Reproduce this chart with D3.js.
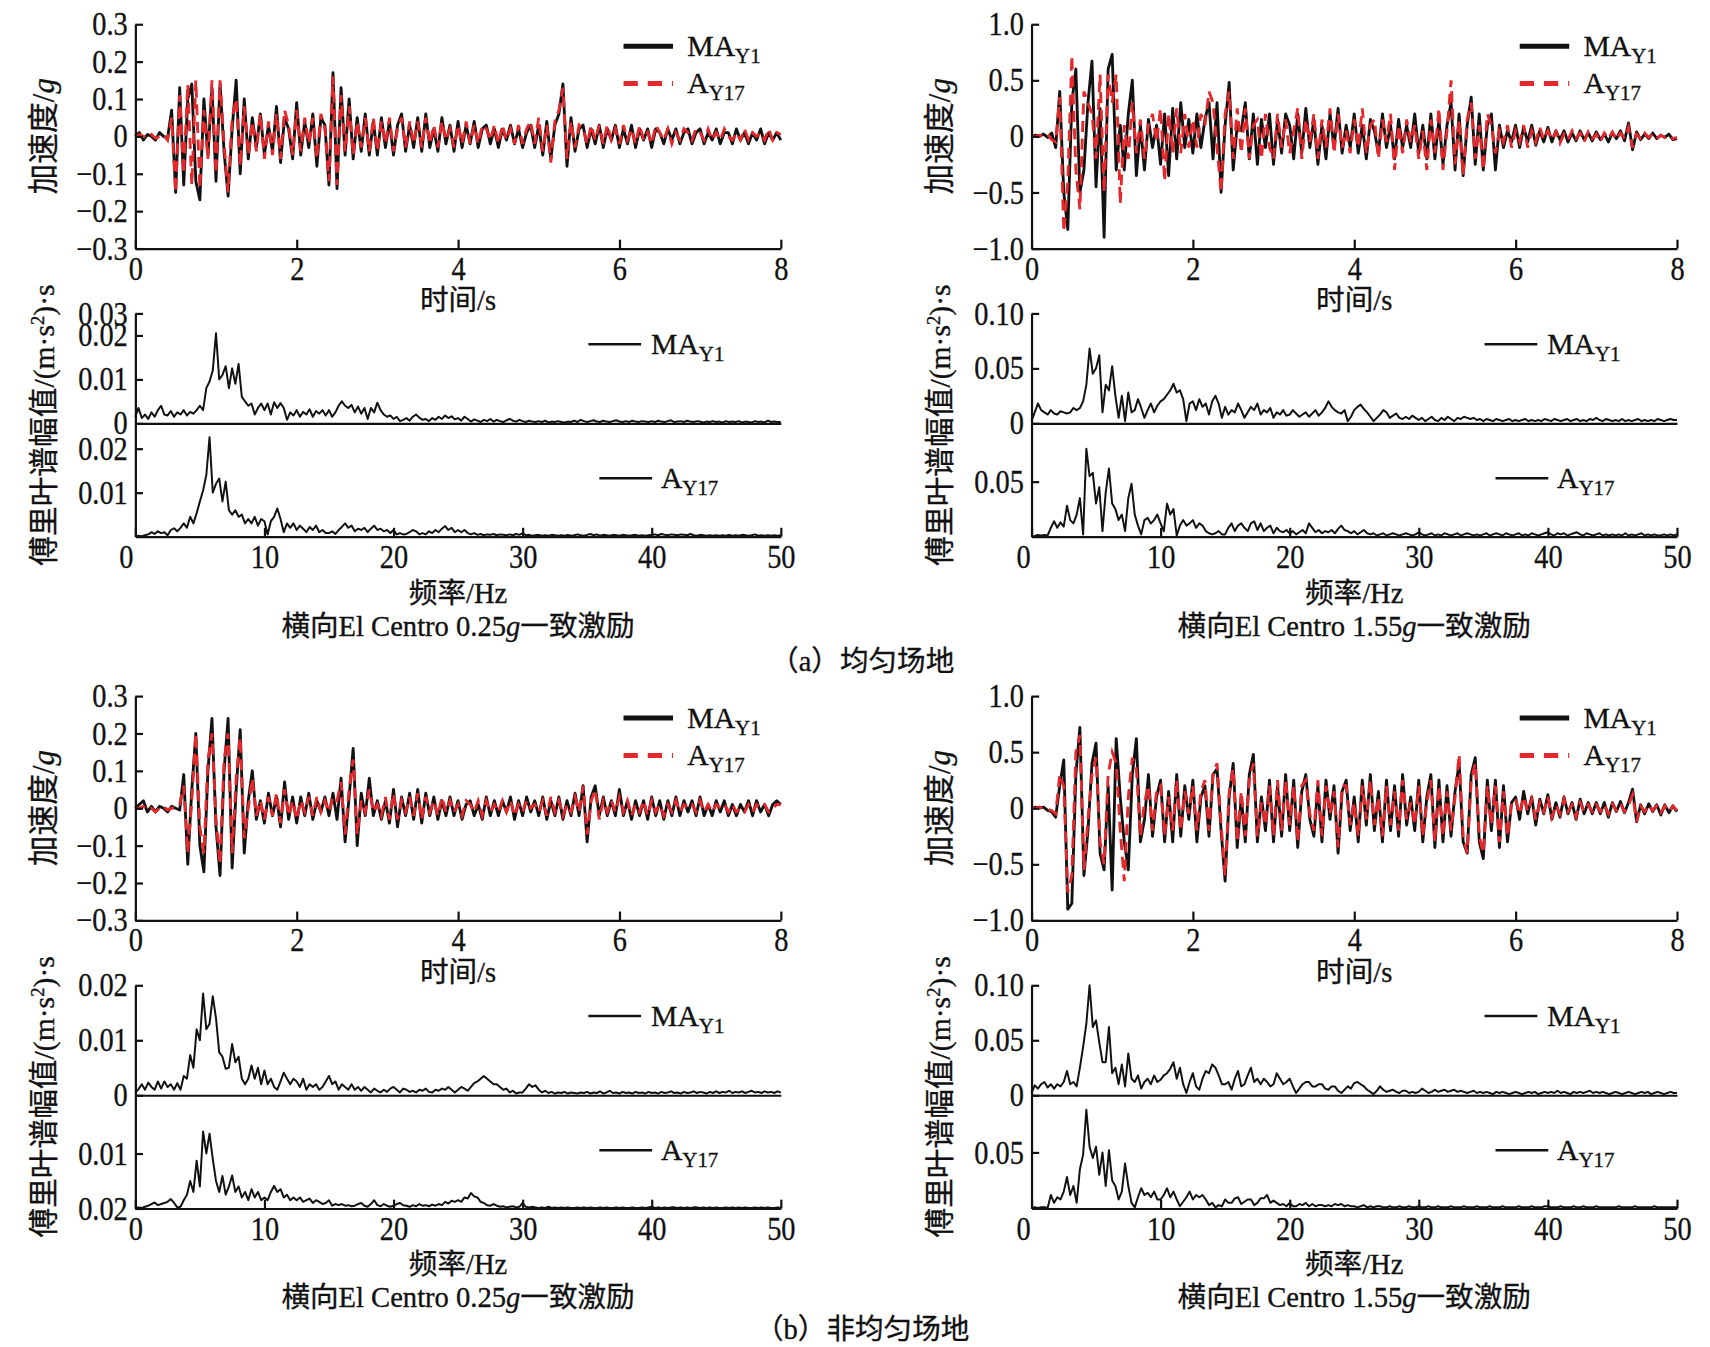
<!DOCTYPE html>
<html>
<head>
<meta charset="utf-8">
<script src="https://cdn.jsdelivr.net/npm/d3@7"></script>
<style>
  body { margin: 0; background: #fff; }
  svg { display: block; }
  text { font-family: "Liberation Serif", "Noto Sans CJK SC", serif; fill: #111; stroke: #111; stroke-width: 0.3; }
  .axis path, .axis line { stroke: #111; stroke-width: 2; }
  .axis text { font-size: 30px; font-family: "Liberation Serif", serif; fill: #111; }
</style>
</head>
<body>
<div id="chart"></div>
<script>
// ---- data ----
// acceleration histories, one value every 0.05 s from 0 to 8 s (unit: g)
var accUniLowMA = [
  0, 0.01, -0.01, 0.005, 0, -0.01, 0.01, 0, -0.005, 0.07, -0.15, 0.13, -0.13, 0.1, 0.14, -0.12, -0.17, 0.1, -0.05, 0.13,
  -0.12, 0.14, -0.04, -0.16, 0.02, 0.15, -0.1, 0.1, -0.06, 0.05, -0.03, 0.06, -0.05, 0.03, -0.04, 0.08, -0.07, 0.05, 0.02, -0.06,
  0.09, -0.05, 0.04, -0.03, 0.06, -0.08, 0.05, 0.03, -0.13, 0.17, -0.14, 0.13, -0.05, 0.1, -0.06, 0.05, -0.04, 0.06, -0.05, 0.04,
  -0.05, 0.05, -0.03, 0.04, -0.05, 0.03, 0.06, -0.04, 0.03, -0.03, 0.05, -0.04, 0.06, -0.03, 0.02, -0.04, 0.05, -0.02, 0.03, -0.04,
  0.04, -0.03, 0.03, -0.02, 0.04, -0.03, 0.02, 0.03, -0.02, 0.02, -0.03, 0.02, -0.01, 0.03, -0.02, 0.02, -0.03, 0.01, 0.03, -0.03,
  0.03, -0.05, 0.04, -0.06, 0.03, 0.06, 0.14, -0.08, 0.05, -0.04, 0.02, 0.03, -0.03, 0.02, -0.02, 0.03, -0.03, 0.02, -0.01, 0.03,
  -0.03, 0.02, -0.02, 0.03, -0.03, 0.02, -0.01, 0.02, -0.03, 0.02, 0.01, -0.02, 0.02, -0.01, 0.02, -0.02, 0.01, 0.02, -0.02, 0.01,
  0.02, -0.02, 0.01, -0.01, 0.02, -0.02, 0.01, 0.01, -0.02, 0.02, -0.01, 0.01, -0.02, 0.01, -0.01, 0.02, -0.02, 0.01, -0.01, 0.01,
  -0.01
];
var accUniLowA = [
  0, 0.005, 0, -0.005, 0.005, -0.005, 0, 0.005, -0.01, 0.05, -0.15, 0.11, -0.1, 0.14, -0.13, 0.15, -0.14, 0.07, -0.06, 0.15,
  -0.1, 0.15, -0.02, -0.15, 0.05, 0.1, -0.08, 0.08, -0.05, 0.04, -0.04, 0.06, -0.06, 0.04, -0.05, 0.06, -0.06, 0.07, 0.03, -0.05,
  0.07, -0.04, 0.05, -0.02, 0.05, -0.06, 0.06, 0.02, -0.12, 0.16, -0.13, 0.11, -0.04, 0.08, -0.05, 0.04, -0.03, 0.05, -0.04, 0.05,
  -0.04, 0.04, -0.02, 0.05, -0.04, 0.02, 0.05, -0.03, 0.04, -0.02, 0.04, -0.03, 0.05, -0.02, 0.03, -0.03, 0.04, -0.01, 0.02, -0.03,
  0.03, -0.02, 0.04, -0.02, 0.03, -0.02, 0.03, 0.02, -0.01, 0.03, -0.02, 0.03, -0.01, 0.02, -0.02, 0.03, -0.02, 0.02, 0.04, -0.02,
  0.05, -0.04, 0.03, -0.07, 0.04, 0.07, 0.13, -0.06, 0.04, -0.03, 0.03, 0.02, -0.02, 0.03, -0.01, 0.03, -0.02, 0.03, -0.01, 0.02,
  -0.02, 0.03, -0.01, 0.02, -0.02, 0.03, -0.01, 0.01, -0.02, 0.03, 0.01, -0.01, 0.02, -0.02, 0.01, -0.01, 0.02, 0.01, -0.01, 0.02,
  0.01, -0.01, 0.02, -0.01, 0.01, -0.01, 0.02, 0, -0.01, 0.01, -0.01, 0.02, -0.01, 0.01, 0, 0.01, -0.01, 0.02, -0.01, 0.01,
  0.005
];
var accUniHighMA = [
  0, 0.01, 0, 0.02, -0.01, 0.03, -0.1, 0.4, -0.5, -0.83, 0.3, 0.6, -0.5, -0.3, 0.3, 0.67, -0.45, 0.25, -0.9, 0.6,
  0.73, -0.3, 0.1, -0.3, 0.2, 0.5, -0.35, 0.1, -0.3, 0.15, -0.1, 0.1, -0.25, 0.2, -0.35, 0.25, -0.2, 0.3, -0.1, 0.15,
  -0.15, 0.2, -0.1, 0.15, 0.3, -0.2, 0.3, -0.5, 0.1, 0.48, -0.3, 0.1, 0.05, 0.3, -0.2, 0.2, -0.25, 0.15, -0.1, 0.2,
  -0.25, 0.15, -0.15, 0.2, 0.1, -0.2, 0.2, -0.15, 0.25, -0.1, 0.15, -0.25, 0.1, -0.2, 0.2, -0.1, 0.25, -0.15, 0.1, -0.1,
  0.2, -0.15, 0.1, -0.2, 0.15, 0.05, -0.15, 0.2, -0.1, 0.1, -0.2, 0.15, -0.1, 0.1, -0.1, 0.2, -0.15, 0.1, -0.2, 0.2,
  -0.2, 0.15, -0.25, 0.1, 0.3, -0.3, 0.2, -0.35, 0.1, 0.35, -0.25, 0.2, -0.3, 0.1, 0.2, -0.3, 0.1, -0.1, 0.05, -0.05,
  0.1, -0.1, 0.08, -0.05, 0.1, -0.08, 0.05, -0.05, 0.08, -0.05, 0.05, -0.03, 0.05, -0.05, 0.03, -0.04, 0.05, -0.03, 0.03, -0.04,
  0.04, -0.03, 0.02, -0.05, 0.03, -0.02, 0.05, -0.04, 0.12, -0.12, 0.04, -0.03, 0.02, -0.02, 0.03, -0.02, 0.01, -0.01, 0.02, -0.03,
  -0.02
];
var accUniHighA = [
  0, 0, 0.01, 0, 0.02, -0.03, -0.05, 0.35, -0.85, -0.4, 0.72, -0.3, -0.65, 0.4, 0.3, 0.2, -0.2, 0.55, -0.5, 0.55,
  0.3, 0.55, -0.6, 0.1, -0.2, 0.3, -0.15, 0.15, -0.2, 0.1, 0.2, -0.05, 0.25, -0.4, 0.2, -0.15, 0.25, -0.15, 0.2, -0.1,
  0.15, -0.1, 0.2, 0.1, 0.4, 0.3, -0.1, -0.5, 0.2, 0.4, -0.2, 0.25, -0.15, 0.25, -0.2, 0.1, 0.15, -0.2, 0.2, -0.1,
  -0.2, 0.2, -0.1, 0.15, -0.15, 0.05, 0.25, -0.2, 0.15, -0.05, 0.2, -0.2, 0.15, -0.1, 0.25, -0.15, 0.2, -0.1, 0.05, -0.15,
  0.15, -0.1, 0.25, -0.15, 0.1, 0.15, -0.2, 0.15, -0.05, 0.2, -0.3, 0.1, -0.15, 0.15, -0.05, 0.1, -0.2, 0.05, -0.3, 0.15,
  -0.15, 0.25, -0.3, 0.05, 0.5, -0.25, 0.15, -0.35, 0.15, 0.3, -0.2, 0.1, -0.3, 0.2, 0.1, -0.15, 0.05, -0.05, 0.1, -0.1,
  0.05, -0.05, 0.1, -0.1, 0.05, -0.05, 0.08, -0.03, 0.05, -0.03, 0.04, -0.06, 0.02, -0.03, 0.05, -0.02, 0.03, -0.05, 0.04, -0.02,
  0.02, -0.05, 0.03, -0.02, 0.04, -0.03, 0.03, -0.02, 0.08, -0.1, 0.02, -0.02, 0.03, -0.01, 0.02, -0.02, 0.01, -0.01, 0.01, -0.02,
  -0.01
];
var accNonLowMA = [
  0, 0.01, 0.02, -0.01, 0.005, -0.01, 0.005, 0, -0.01, 0.005, 0, -0.005, 0.09, -0.15, 0.05, 0.2, -0.1, -0.17, 0.1, 0.24,
  -0.05, -0.18, 0.1, 0.24, -0.16, 0.05, 0.21, -0.12, 0.02, 0.1, -0.03, 0.02, -0.04, 0.04, -0.02, 0.03, -0.05, 0.07, -0.03, 0.03,
  -0.04, 0.03, -0.02, 0.04, -0.03, 0.02, -0.01, 0.03, -0.02, 0.04, -0.03, 0.08, -0.09, 0.03, 0.16, -0.1, 0.04, -0.02, 0.08, -0.02,
  0.02, -0.03, 0.02, -0.04, 0.05, -0.05, 0.03, -0.02, 0.04, -0.03, 0.05, -0.04, 0.04, -0.02, 0.03, -0.03, 0.02, -0.02, 0.03, -0.02,
  0.02, -0.03, 0.01, 0.02, -0.02, 0.01, -0.03, 0.03, -0.02, 0.02, -0.02, 0.02, -0.01, 0.03, -0.03, 0.02, -0.02, 0.03, -0.01, 0.02,
  -0.02, 0.03, -0.03, 0.02, -0.02, 0.03, -0.03, 0.02, -0.02, 0.04, -0.02, 0.06, -0.09, 0.03, 0.06, -0.02, 0.03, -0.02, 0.02, -0.02,
  0.05, -0.02, 0.02, -0.03, 0.02, -0.02, 0.02, -0.03, 0.03, -0.02, 0.02, -0.03, 0.02, -0.02, 0.03, -0.02, 0.02, -0.01, 0.02, -0.02,
  0.03, -0.02, 0.01, -0.02, 0.02, -0.01, 0.02, -0.02, 0.01, -0.02, 0.01, -0.01, 0.02, -0.02, 0.02, -0.01, 0.01, -0.02, 0.01, 0.02,
  0.01
];
var accNonLowA = [
  0, 0, 0.005, -0.005, 0, -0.01, 0, 0.005, -0.005, 0, 0, 0.01, 0.06, -0.12, 0.02, 0.2, -0.05, -0.12, 0.13, 0.2,
  -0.03, -0.15, 0.13, 0.2, -0.12, 0.08, 0.19, -0.08, 0, 0.08, -0.02, 0.02, -0.03, 0.03, -0.02, 0.04, -0.04, 0.05, -0.02, 0.02,
  -0.03, 0.02, -0.01, 0.03, -0.02, 0.03, -0.01, 0.02, -0.01, 0.03, 0.02, 0.07, -0.07, 0.05, 0.13, -0.07, 0.02, -0.01, 0.05, -0.01,
  0.01, -0.02, 0.03, -0.03, 0.04, -0.03, 0.02, -0.01, 0.03, -0.02, 0.04, -0.03, 0.03, -0.01, 0.02, -0.02, 0.03, -0.01, 0.02, -0.01,
  0.01, -0.02, 0.02, 0.01, -0.01, 0.02, -0.02, 0.02, -0.01, 0.01, -0.01, 0.02, -0.01, 0.02, -0.02, 0.01, -0.01, 0.02, 0, 0.01,
  -0.01, 0.02, -0.02, 0.03, -0.01, 0.02, -0.02, 0.01, -0.01, 0.03, -0.01, 0.06, -0.07, 0.02, 0.05, -0.03, 0.02, -0.01, 0.02, -0.01,
  0.03, -0.01, 0.02, -0.02, 0.01, -0.01, 0.02, -0.02, 0.02, -0.01, 0.01, -0.02, 0.01, -0.01, 0.02, -0.01, 0.01, 0, 0.01, -0.01,
  0.02, -0.01, 0.01, -0.01, 0.01, 0, 0.01, -0.01, 0.01, -0.01, 0, -0.01, 0.01, -0.01, 0.01, 0, 0.01, -0.01, 0, 0.01,
  0.01
];
var accNonHighMA = [
  0, 0.01, 0, 0.01, -0.02, -0.03, -0.08, 0.2, 0.43, -0.9, -0.85, 0.3, 0.72, -0.6, -0.2, 0.4, 0.58, -0.4, -0.55, 0.2,
  -0.73, 0.62, 0.1, -0.3, -0.55, 0.3, 0.62, -0.3, -0.1, 0.3, -0.25, 0.1, 0.25, -0.3, 0.15, -0.3, 0.3, -0.25, 0.2, -0.1,
  0.25, -0.3, 0.1, 0.2, -0.25, 0.3, 0.35, -0.2, -0.65, 0.1, 0.4, -0.35, 0.1, -0.3, 0.3, 0.48, -0.3, 0.1, -0.2, 0.25,
  -0.3, 0.2, -0.25, 0.3, -0.2, 0.25, -0.35, 0.15, 0.3, -0.1, -0.25, 0.2, -0.3, 0.25, -0.1, 0.2, -0.4, 0.15, 0.25, -0.2,
  0.1, -0.3, 0.25, -0.15, 0.3, -0.2, 0.15, -0.3, 0.25, -0.2, 0.2, -0.25, 0.3, -0.15, 0.1, -0.2, 0.25, -0.3, 0.1, 0.3,
  -0.35, 0.25, -0.3, 0.2, -0.25, 0.15, 0.4, -0.3, -0.4, 0.3, 0.45, -0.3, -0.45, 0.25, -0.2, 0.25, -0.35, 0.2, -0.3, 0.05,
  0.1, -0.1, 0.15, -0.05, 0.1, -0.15, 0.08, -0.05, 0.12, -0.1, 0.05, -0.08, 0.1, -0.05, 0.05, -0.1, 0.08, -0.05, 0.05, -0.05,
  0.05, -0.05, 0.05, -0.08, 0.05, -0.03, 0.06, -0.04, 0.05, 0.17, -0.12, 0.03, -0.05, 0.04, -0.03, 0.03, -0.06, 0.03, -0.04, 0.02,
  -0.03
];
var accNonHighA = [
  0, 0, 0.01, 0, -0.01, -0.02, -0.05, 0.3, 0.2, -0.75, -0.6, 0.5, 0.65, -0.55, -0.1, 0.3, 0.45, -0.3, -0.5, 0.3,
  0.5, 0.4, -0.2, -0.65, 0.1, 0.45, 0.35, -0.25, 0.05, 0.2, -0.2, 0.15, 0.2, -0.25, 0.1, -0.2, 0.25, -0.2, 0.15, -0.05,
  0.2, -0.2, 0.15, 0.25, -0.2, 0.3, 0.4, -0.15, -0.6, 0.15, 0.35, -0.3, 0.15, -0.25, 0.25, 0.4, -0.25, 0.05, -0.15, 0.2,
  -0.25, 0.25, -0.2, 0.25, -0.15, 0.2, -0.3, 0.2, 0.25, -0.05, -0.2, 0.25, -0.25, 0.2, -0.05, 0.15, -0.35, 0.2, 0.2, -0.15,
  0.05, -0.25, 0.2, -0.1, 0.25, -0.15, 0.1, -0.25, 0.2, -0.15, 0.15, -0.2, 0.25, -0.1, 0.05, -0.15, 0.2, -0.25, 0.05, 0.25,
  -0.3, 0.2, -0.25, 0.15, -0.2, 0.1, 0.48, -0.25, -0.4, 0.25, 0.4, -0.25, -0.4, 0.2, -0.15, 0.2, -0.3, 0.15, -0.25, 0.05,
  0.08, -0.05, 0.1, -0.03, 0.08, -0.1, 0.05, -0.03, 0.1, -0.08, 0.03, -0.05, 0.08, -0.03, 0.03, -0.08, 0.05, -0.03, 0.03, -0.03,
  0.03, -0.03, 0.03, -0.05, 0.04, -0.02, 0.04, -0.03, 0.03, 0.12, -0.12, 0.02, -0.03, 0.03, -0.02, 0.02, -0.04, 0.02, -0.03, 0.02,
  -0.02
];

// Fourier amplitude spectra, one value every 0.25 Hz from 0 to 50 Hz (unit: 0.001 (m·s^-2)·s)
var fftUniLowMA = [
  1.5, 3.5, 1.2, 2.0, 1.0, 2.5, 1.5, 3.0, 4.0, 2.0, 1.8, 2.8, 1.5, 2.5, 2.0, 3.0, 1.8, 2.6, 2.2, 3.0,
  4.0, 3.0, 8.0, 9.5, 12.0, 20.5, 10.0, 11.0, 13.0, 8.0, 12.5, 9.0, 13.5, 6.0, 5.0, 4.0, 4.5, 2.0, 3.5, 4.5,
  3.0, 4.5, 2.0, 4.8, 3.5, 4.6, 3.5, 0.8, 2.5, 1.8, 3.0, 1.5, 2.6, 2.0, 3.2, 1.5, 2.8, 2.2, 3.0, 1.8,
  3.0, 1.5, 2.5, 4.0, 5.0, 4.0, 3.5, 4.2, 2.5, 3.8, 2.2, 3.5, 1.0, 3.5, 2.5, 4.7, 3.0, 2.0, 1.5, 1.8,
  1.0, 1.5, 0.5, 0.8, 1.2, 0.6, 1.5, 2.0, 1.3, 0.8, 1.0, 0.5, 1.2, 0.8, 1.5, 1.0, 1.8, 1.2, 1.6, 0.9,
  1.2, 0.6, 1.5, 1.0, 0.4, 0.9, 0.6, 0.3, 0.8, 0.5, 1.0, 0.4, 0.8, 0.5, 0.3, 0.7, 1.0, 0.6, 0.4, 0.8,
  0.5, 0.3, 0.6, 0.4, 0.3, 0.5, 0.3, 0.6, 0.2, 0.4, 0.3, 0.5, 0.3, 0.2, 0.4, 0.3, 0.6, 0.3, 0.8, 0.5,
  0.3, 0.5, 0.7, 0.4, 0.3, 0.6, 0.4, 0.3, 0.5, 0.7, 0.4, 0.3, 0.5, 0.3, 0.6, 0.4, 0.3, 0.5, 0.4, 0.3,
  0.5, 0.3, 0.6, 0.4, 0.3, 0.5, 0.7, 0.3, 0.4, 0.5, 0.3, 0.6, 0.4, 0.3, 0.5, 0.4, 0.2, 0.4, 0.3, 0.5,
  0.3, 0.4, 0.2, 0.5, 0.3, 0.4, 0.3, 0.5, 0.2, 0.4, 0.3, 0.2, 0.5, 0.3, 0.4, 0.2, 0.6, 0.3, 0.4, 0.3,
  0.3
];
var fftUniLowA = [
  0.1, 0.2, 0.1, 0.3, 0.5, 1.0, 0.6, 1.2, 0.8, 1.0, 0.3, 1.5, 1.9, 1.2, 2.0, 3.0, 2.0, 4.5, 3.0, 5.3,
  8.0, 10.5, 14.0, 22.6, 10.0, 12.0, 13.2, 8.0, 12.5, 6.0, 5.0, 6.0, 4.5, 5.0, 3.0, 4.0, 3.0, 4.5, 2.5, 4.0,
  3.5, 0.5, 3.5, 4.5, 6.4, 4.0, 1.0, 3.0, 2.0, 3.0, 1.5, 2.5, 1.8, 1.0, 2.2, 1.5, 2.5, 1.0, 1.5, 0.8,
  0.8, 1.2, 0.6, 1.5, 2.2, 3.0, 2.0, 2.5, 1.2, 1.8, 1.5, 2.0, 1.0, 1.8, 2.5, 1.5, 1.8, 1.2, 1.5, 0.8,
  1.5, 0.5, 0.8, 0.5, 0.6, 1.0, 1.5, 1.2, 0.5, 0.8, 0.5, 1.2, 0.8, 1.5, 1.0, 1.8, 2.4, 1.5, 2.0, 1.0,
  1.5, 1.0, 1.5, 0.8, 0.5, 0.8, 0.4, 0.6, 0.3, 0.5, 0.4, 0.6, 0.3, 0.5, 0.4, 0.3, 0.5, 0.3, 0.6, 0.4,
  0.8, 0.3, 0.4, 0.2, 0.3, 0.4, 0.2, 0.3, 0.2, 0.4, 0.3, 0.2, 0.3, 0.2, 0.4, 0.2, 0.3, 0.5, 0.3, 0.2,
  0.4, 0.6, 0.3, 0.5, 0.2, 0.4, 0.3, 0.2, 0.4, 0.3, 0.2, 0.4, 0.3, 0.2, 0.3, 0.4, 0.2, 0.3, 0.2, 0.3,
  0.4, 0.5, 0.3, 0.6, 0.4, 0.3, 0.5, 0.4, 0.3, 0.5, 0.4, 0.3, 0.6, 0.3, 0.2, 0.4, 0.3, 0.2, 0.3, 0.2,
  0.3, 0.2, 0.3, 0.2, 0.4, 0.2, 0.3, 0.2, 0.4, 0.3, 0.2, 0.3, 0.5, 0.2, 0.3, 0.2, 0.3, 0.2, 0.3, 0.2,
  0.3
];
var fftUniHighMA = [
  2, 10, 18, 12, 10, 8, 12, 9, 8, 11, 10, 9, 10, 14, 12, 14, 20, 35, 68, 45,
  50, 62, 10, 35, 30, 52, 25, 5, 25, 2, 28, 10, 12, 22, 14, 5, 12, 18, 10, 16,
  20, 22, 26, 30, 36, 28, 30, 22, 2, 18, 20, 12, 22, 15, 18, 8, 20, 25, 18, 5,
  15, 8, 12, 10, 18, 12, 5, 10, 15, 12, 18, 8, 12, 10, 14, 5, 10, 8, 12, 7,
  8, 12, 9, 6, 8, 10, 6, 9, 12, 7, 10, 14, 20, 15, 12, 10, 9, 12, 2, 6,
  12, 15, 17, 13, 10, 6, 2, 5, 8, 12, 10, 5, 7, 9, 5, 4, 6, 4, 7, 5,
  3, 5, 2, 4, 6, 3, 2, 5, 3, 6, 4, 2, 5, 4, 6, 5, 4, 5, 3, 4,
  2, 4, 3, 2, 4, 3, 2, 3, 4, 2, 3, 2, 3, 4, 2, 3, 2, 3, 2, 4,
  3, 2, 4, 3, 2, 3, 4, 2, 3, 4, 2, 3, 2, 4, 3, 5, 3, 2, 4, 3,
  2, 3, 2, 4, 2, 3, 2, 3, 4, 2, 3, 2, 3, 2, 4, 3, 2, 3, 4, 3,
  3
];
var fftUniHighA = [
  0, 0.5, 1.5, 1, 1.5, 1, 8, 14, 8, 13, 9, 28, 15, 12, 20, 35, 2, 80, 55, 58,
  30, 45, 5, 40, 62, 30, 25, 15, 20, 5, 35, 48, 20, 10, 2, 15, 17, 12, 15, 20,
  12, 5, 30, 20, 25, 1, 10, 15, 10, 12, 15, 8, 12, 10, 5, 3, 2, 3, 5, 2,
  2, 8, 12, 5, 10, 12, 8, 5, 12, 14, 6, 12, 5, 8, 10, 3, 8, 5, 4, 6,
  3, 5, 2, 4, 6, 3, 12, 8, 4, 6, 3, 5, 4, 6, 3, 7, 10, 6, 5, 3,
  5, 2, 4, 6, 3, 2, 3, 1, 2, 3, 1, 2, 3, 2, 1, 2, 3, 2, 1, 2,
  4, 2, 1, 2, 3, 1, 2, 1, 3, 2, 1, 2, 3, 1, 2, 3, 2, 1, 2, 1,
  2, 3, 1, 2, 3, 2, 1, 3, 2, 1, 2, 3, 1, 2, 1, 3, 2, 1, 2, 3,
  4, 2, 1, 3, 2, 3, 1, 2, 3, 4, 2, 1, 3, 2, 1, 2, 3, 1, 2, 1,
  2, 1, 2, 1, 3, 1, 2, 1, 2, 3, 1, 2, 1, 2, 1, 1, 2, 1, 2, 1,
  2
];
var fftNonLowMA = [
  0.5, 1.1, 2.0, 1.0, 2.3, 1.5, 1.0, 2.5, 1.2, 2.5, 1.5, 2.0, 1.0, 2.2, 1.0, 3.5, 3.0, 7.3, 5.0, 12.0,
  10.0, 18.5, 12.0, 13.0, 18.0, 14.0, 7.8, 7.0, 4.8, 5.0, 9.3, 6.0, 7.0, 3.0, 2.0, 3.0, 5.4, 3.0, 5.0, 2.0,
  4.5, 2.0, 3.0, 1.5, 1.0, 2.5, 4.1, 3.0, 2.0, 3.0, 2.5, 1.5, 3.0, 1.0, 2.0, 1.5, 2.0, 1.0, 1.5, 2.5,
  3.5, 2.0, 2.5, 1.0, 2.0, 1.5, 1.0, 2.0, 1.0, 1.5, 0.8, 1.5, 1.0, 0.5, 1.2, 0.8, 0.5, 1.0, 0.6, 1.2,
  1.5, 1.0, 0.5, 1.2, 1.0, 0.6, 0.8, 0.5, 1.0, 0.8, 1.2, 0.6, 0.5, 1.0, 0.8, 1.2, 1.0, 1.5, 1.0, 0.5,
  1.0, 1.5, 1.2, 0.8, 1.5, 2.2, 2.5, 3.0, 3.5, 3.0, 2.5, 2.0, 2.0, 1.5, 1.0, 1.2, 0.5, 0.8, 0.3, 0.5,
  0.5, 1.2, 2.0, 1.5, 1.8, 1.0, 0.5, 0.8, 0.4, 0.6, 0.3, 0.5, 0.4, 0.6, 0.3, 0.5, 0.4, 0.3, 0.5, 0.4,
  0.6, 0.3, 0.5, 0.4, 0.7, 0.3, 0.5, 0.8, 0.4, 0.5, 0.3, 0.6, 0.4, 0.5, 0.3, 0.6, 0.4, 0.5, 0.3, 0.6,
  0.4, 0.5, 0.3, 0.6, 0.4, 0.5, 0.7, 0.4, 0.5, 0.3, 0.6, 0.4, 0.5, 0.7, 0.4, 0.6, 0.5, 0.3, 0.6, 0.4,
  0.7, 0.4, 0.6, 0.5, 0.8, 0.4, 0.6, 0.5, 0.7, 0.4, 0.6, 0.8, 0.5, 0.6, 0.4, 0.7, 0.5, 0.6, 0.4, 0.7,
  0.5
];
var fftNonLowA = [
  0.1, 0.2, 0.1, 0.3, 0.5, 0.8, 1.1, 0.6, 0.8, 1.0, 1.2, 1.7, 1.0, 0.2, 0.3, 1.5, 2.5, 5.0, 3.0, 8.7,
  4.0, 14.0, 10.0, 13.6, 9.0, 5.0, 3.0, 5.9, 2.5, 4.0, 6.0, 3.0, 4.0, 2.0, 3.0, 1.5, 3.5, 2.0, 3.0, 1.5,
  2.0, 1.5, 3.0, 4.1, 3.0, 3.5, 2.0, 2.5, 1.5, 2.0, 1.5, 2.0, 1.2, 1.5, 1.8, 1.0, 1.5, 1.2, 0.8, 1.0,
  1.5, 0.5, 0.8, 0.6, 0.8, 0.5, 0.6, 0.4, 0.5, 0.8, 1.0, 0.5, 0.3, 0.8, 1.5, 0.6, 0.4, 0.8, 0.5, 0.3,
  0.5, 0.8, 1.0, 0.6, 0.5, 0.3, 0.6, 0.4, 0.8, 0.5, 0.6, 0.4, 0.7, 0.5, 0.8, 0.6, 1.2, 0.9, 1.4, 1.2,
  1.5, 1.2, 2.0, 1.8, 2.8, 2.2, 2.0, 1.2, 1.0, 0.6, 0.5, 0.8, 0.5, 0.3, 0.4, 0.2, 0.3, 0.4, 0.2, 0.3,
  1.0, 0.3, 0.2, 0.3, 0.2, 0.1, 0.2, 0.1, 0.3, 0.1, 0.2, 0.1, 0.2, 0.1, 0.2, 0.1, 0.1, 0.2, 0.1, 0.2,
  0.1, 0.2, 0.1, 0.1, 0.2, 0.1, 0.2, 0.1, 0.1, 0.2, 0.1, 0.2, 0.1, 0.1, 0.2, 0.1, 0.1, 0.2, 0.1, 0.2,
  0.3, 0.1, 0.2, 0.1, 0.2, 0.1, 0.2, 0.2, 0.1, 0.2, 0.1, 0.2, 0.1, 0.2, 0.2, 0.1, 0.2, 0.1, 0.2, 0.1,
  0.2, 0.1, 0.1, 0.2, 0.1, 0.2, 0.1, 0.2, 0.1, 0.2, 0.1, 0.1, 0.2, 0.1, 0.2, 0.1, 0.2, 0.1, 0.1, 0.2,
  0.1
];
var fftNonHighMA = [
  2, 9, 6, 10, 12, 7, 10, 6, 10, 8, 12, 22, 10, 12, 8, 25, 44, 65, 100, 62,
  68, 48, 30, 30, 62, 20, 25, 10, 28, 8, 38, 15, 12, 18, 6, 12, 15, 10, 18, 12,
  14, 18, 20, 24, 30, 15, 25, 10, 2, 12, 20, 8, 5, 15, 22, 20, 28, 25, 18, 10,
  10, 12, 5, 15, 22, 8, 10, 18, 25, 12, 15, 10, 15, 12, 8, 10, 20, 15, 10, 12,
  15, 8, 2, 6, 10, 12, 12, 8, 8, 10, 10, 6, 5, 8, 8, 4, 2, 5, 8, 6,
  11, 12, 10, 8, 5, 3, 1, 4, 8, 5, 3, 4, 5, 3, 2, 4, 4, 2, 3, 2,
  3, 6, 4, 2, 3, 5, 3, 4, 5, 3, 4, 5, 3, 4, 3, 2, 3, 4, 2, 3,
  2, 3, 2, 1, 3, 2, 3, 2, 1, 2, 3, 2, 1, 2, 3, 2, 3, 1, 2, 3,
  2, 3, 2, 4, 2, 3, 2, 1, 3, 2, 3, 2, 3, 4, 2, 3, 2, 3, 2, 1,
  2, 3, 2, 1, 2, 3, 2, 1, 2, 3, 2, 3, 1, 2, 3, 2, 1, 2, 3, 2,
  2
];
var fftNonHighA = [
  0.5, 1, 0.5, 1, 1, 0.5, 12, 5, 10, 8, 15, 28, 12, 20, 5, 35, 48, 88, 55, 45,
  55, 30, 50, 20, 52, 25, 20, 8, 15, 40, 20, 5, 1, 10, 18, 12, 14, 10, 15, 8,
  8, 12, 18, 10, 15, 8, 2, 6, 10, 15, 8, 12, 10, 12, 8, 3, 5, 1, 3, 2,
  8, 5, 5, 9, 10, 4, 6, 8, 8, 3, 5, 9, 9, 12, 5, 7, 5, 3, 4, 2,
  5, 2, 2, 4, 3, 5, 2, 4, 2, 3, 3, 2, 3, 2, 4, 3, 4, 2, 3, 2,
  2, 1, 2, 3, 1, 2, 1, 2, 2, 1, 1, 2, 1, 1, 2, 1, 1, 2, 1, 1,
  2, 1, 1, 2, 1, 1, 2, 1, 1, 1, 2, 1, 1, 1, 2, 1, 1, 1, 2, 1,
  1, 1, 2, 1, 1, 1, 2, 1, 1, 1, 1, 2, 1, 1, 1, 2, 1, 1, 1, 2,
  2, 1, 1, 1, 2, 1, 1, 1, 2, 1, 1, 2, 1, 1, 1, 2, 1, 1, 1, 1,
  1, 1, 2, 1, 1, 1, 1, 2, 1, 1, 1, 1, 1, 2, 1, 1, 1, 1, 1, 1,
  1
];

// axis ticks and labels as printed in the figure
var timeTicks = [0, 2, 4, 6, 8];
var freqTicks = [0, 10, 20, 30, 40, 50];
var accTicksLow = [-0.3, -0.2, -0.1, 0, 0.1, 0.2, 0.3];
var accLabelsLow = ["\u22120.3", "\u22120.2", "\u22120.1", "0", "0.1", "0.2", "0.3"];
var accTicksHigh = [-1, -0.5, 0, 0.5, 1];
var accLabelsHigh = ["\u22121.0", "\u22120.5", "0", "0.5", "1.0"];
var legendNames = [["MA", "Y1"], ["A", "Y17"]];
var captions = ["0.25", "1.55"];
var siteTitles = ["（a）均匀场地", "（b）非均匀场地"];

// ---- layout (drawn in a 1555 x 1225 frame, scaled to the page) ----
var W = 1555, H = 1225;
var svg = d3.select("#chart").append("svg")
  .attr("width", 1710).attr("height", 1347)
  .attr("viewBox", "0 0 " + W + " " + H);

var red = "#e4282c";

var columns = [
  { x0: 123, x1: 710, dy: 0, amax: 0.3, ticks: accTicksLow, labels: accLabelsLow, ma: accUniLowMA, a: accUniLowA,
    fMA: fftUniLowMA, fA: fftUniLowA, upMax: 25, upTicks: [0, 10, 20, 25], upLabels: ["0", "0.01", "0.02", "0.03"],
    loMax: 25.75, loTicks: [10, 20], loLabels: ["0.01", "0.02"], cap: captions[0], zeroShift: -10 },
  { x0: 938, x1: 1525, dy: 0, amax: 1, ticks: accTicksHigh, labels: accLabelsHigh, ma: accUniHighMA, a: accUniHighA,
    fMA: fftUniHighMA, fA: fftUniHighA, upMax: 100, upTicks: [0, 50, 100], upLabels: ["0", "0.05", "0.10"],
    loMax: 103, loTicks: [50], loLabels: ["0.05"], cap: captions[1], zeroShift: -9 },
  { x0: 123, x1: 710, dy: 611, amax: 0.3, ticks: accTicksLow, labels: accLabelsLow, ma: accNonLowMA, a: accNonLowA,
    fMA: fftNonLowMA, fA: fftNonLowA, upMax: 20, upTicks: [0, 10, 20], upLabels: ["0", "0.01", "0.02"],
    loMax: 20.6, loTicks: [0, 10], loLabels: ["0.02", "0.01"], cap: captions[0], zeroShift: 0 },
  { x0: 938, x1: 1525, dy: 611, amax: 1, ticks: accTicksHigh, labels: accLabelsHigh, ma: accNonHighMA, a: accNonHighA,
    fMA: fftNonHighMA, fA: fftNonHighA, upMax: 100, upTicks: [0, 50, 100], upLabels: ["0", "0.05", "0.10"],
    loMax: 101, loTicks: [50], loLabels: ["0.05"], cap: captions[1], zeroShift: -9 }
];

// tick numbers in the figure are narrow and tall
function narrow(sel) {
  sel.selectAll(".tick text").attr("transform", "scale(0.86,1)");
}

function legendText(g, x, y, name) {
  var t = g.append("text").attr("x", x).attr("y", y + 9).attr("font-size", 27);
  t.append("tspan").text(name[0]);
  t.append("tspan").attr("font-size", 19).attr("dy", 6).text(name[1]);
}

columns.forEach(function (c) {
  var g = svg.append("g");
  var mid = (c.x0 + c.x1) / 2;

  // acceleration panel
  var tTop = 22 + c.dy, tBot = 226 + c.dy;
  var x = d3.scaleLinear().domain([0, 8]).range([c.x0, c.x1]);
  var y = d3.scaleLinear().domain([-c.amax, c.amax]).range([tBot, tTop]);

  var line = d3.line()
    .x(function (d, i, arr) { return x(i * 8 / (arr.length - 1)); })
    .y(function (d) { return y(d); });
  g.append("path").attr("d", line(c.ma)).attr("fill", "none")
    .attr("stroke", "#111").attr("stroke-width", 2.6).attr("stroke-linejoin", "round");
  g.append("path").attr("d", line(c.a)).attr("fill", "none")
    .attr("stroke", red).attr("stroke-width", 2.6).attr("stroke-dasharray", "10,6");

  g.append("g").attr("class", "axis").attr("transform", "translate(" + c.x0 + ",0)")
    .call(d3.axisLeft(y).tickValues(c.ticks).tickFormat(function (d, i) { return c.labels[i]; })
      .tickSizeInner(-7).tickSizeOuter(0).tickPadding(8))
    .call(narrow);
  g.append("g").attr("class", "axis").attr("transform", "translate(0," + tBot + ")")
    .call(d3.axisBottom(x).tickValues(timeTicks).tickFormat(d3.format("d"))
      .tickSizeInner(-8).tickSizeOuter(0).tickPadding(7))
    .call(narrow);

  var yl = g.append("text").attr("font-size", 28).attr("text-anchor", "middle")
    .attr("transform", "translate(" + (c.x0 - 74) + "," + (tTop + tBot) / 2 + ") rotate(-90)");
  yl.append("tspan").text("加速度/");
  yl.append("tspan").attr("font-style", "italic").text("g");

  g.append("text").attr("x", mid).attr("y", tBot + 56).attr("text-anchor", "middle")
    .attr("font-size", 26).text("时间/s");

  // legend of the acceleration panel
  var lx = c.x1 - 143, ly = tTop + 20;
  g.append("line").attr("x1", lx).attr("x2", lx + 45).attr("y1", ly).attr("y2", ly)
    .attr("stroke", "#111").attr("stroke-width", 4.5);
  legendText(g, lx + 58, ly, legendNames[0]);
  g.append("line").attr("x1", lx).attr("x2", lx + 45).attr("y1", ly + 34).attr("y2", ly + 34)
    .attr("stroke", red).attr("stroke-width", 4.5).attr("stroke-dasharray", "13,9");
  legendText(g, lx + 58, ly + 34, legendNames[1]);

  // Fourier spectrum panels
  var fTop = 285 + c.dy, fMid = 385 + c.dy, fBot = 488 + c.dy;
  var xf = d3.scaleLinear().domain([0, 50]).range([c.x0, c.x1]);
  var yU = d3.scaleLinear().domain([0, c.upMax]).range([fMid, fTop]);
  var yL = d3.scaleLinear().domain([0, c.loMax]).range([fBot, fMid]);

  var fx = function (d, i, arr) { return xf(i * 50 / (arr.length - 1)); };
  g.append("path").attr("d", d3.line().x(fx).y(function (d) { return yU(d); })(c.fMA))
    .attr("fill", "none").attr("stroke", "#111").attr("stroke-width", 1.8).attr("stroke-linejoin", "round");
  g.append("path").attr("d", d3.line().x(fx).y(function (d) { return yL(d); })(c.fA))
    .attr("fill", "none").attr("stroke", "#111").attr("stroke-width", 1.8).attr("stroke-linejoin", "round");

  g.append("g").attr("class", "axis").attr("transform", "translate(" + c.x0 + ",0)")
    .call(d3.axisLeft(yU).tickValues(c.upTicks).tickFormat(function (d, i) { return c.upLabels[i]; })
      .tickSizeInner(-7).tickSizeOuter(0).tickPadding(8))
    .call(narrow);
  g.append("g").attr("class", "axis").attr("transform", "translate(" + c.x0 + ",0)")
    .call(d3.axisLeft(yL).tickValues(c.loTicks).tickFormat(function (d, i) { return c.loLabels[i]; })
      .tickSizeInner(-7).tickSizeOuter(0).tickPadding(8))
    .call(narrow);
  g.append("g").attr("class", "axis").attr("transform", "translate(0," + fMid + ")")
    .call(d3.axisBottom(xf).tickValues([]).tickSizeOuter(0));
  var fAxis = g.append("g").attr("class", "axis").attr("transform", "translate(0," + fBot + ")")
    .call(d3.axisBottom(xf).tickValues(freqTicks).tickFormat(d3.format("d"))
      .tickSizeInner(-8).tickSizeOuter(0).tickPadding(7))
    .call(narrow);
  fAxis.selectAll(".tick text").filter(function (d) { return d === 0; }).attr("x", c.zeroShift);

  var fl = g.append("text").attr("font-size", 27).attr("text-anchor", "middle")
    .attr("transform", "translate(" + (c.x0 - 74) + "," + (fTop + fBot) / 2 + ") rotate(-90)");
  fl.append("tspan").text("傅里叶谱幅值/(m·s");
  fl.append("tspan").attr("font-size", 17).attr("dy", -9).text("2");
  fl.append("tspan").attr("dy", 9).text(")·s");

  g.append("line").attr("x1", c.x1 - 175).attr("x2", c.x1 - 127).attr("y1", fTop + 28).attr("y2", fTop + 28)
    .attr("stroke", "#111").attr("stroke-width", 2.2);
  legendText(g, c.x1 - 118, fTop + 28, legendNames[0]);
  g.append("line").attr("x1", c.x1 - 165).attr("x2", c.x1 - 117).attr("y1", fMid + 50).attr("y2", fMid + 50)
    .attr("stroke", "#111").attr("stroke-width", 2.2);
  legendText(g, c.x1 - 109, fMid + 50, legendNames[1]);

  g.append("text").attr("x", mid).attr("y", fBot + 60).attr("text-anchor", "middle")
    .attr("font-size", 26).text("频率/Hz");
  var cp = g.append("text").attr("x", mid).attr("y", fBot + 90).attr("text-anchor", "middle").attr("font-size", 26);
  cp.append("tspan").text("横向El Centro " + c.cap);
  cp.append("tspan").attr("font-style", "italic").text("g");
  cp.append("tspan").text("一致激励");
});

siteTitles.forEach(function (t, i) {
  svg.append("text").attr("x", 784).attr("y", 610 + i * 608).attr("text-anchor", "middle")
    .attr("font-size", 26).text(t);
});
</script>
</body>
</html>
